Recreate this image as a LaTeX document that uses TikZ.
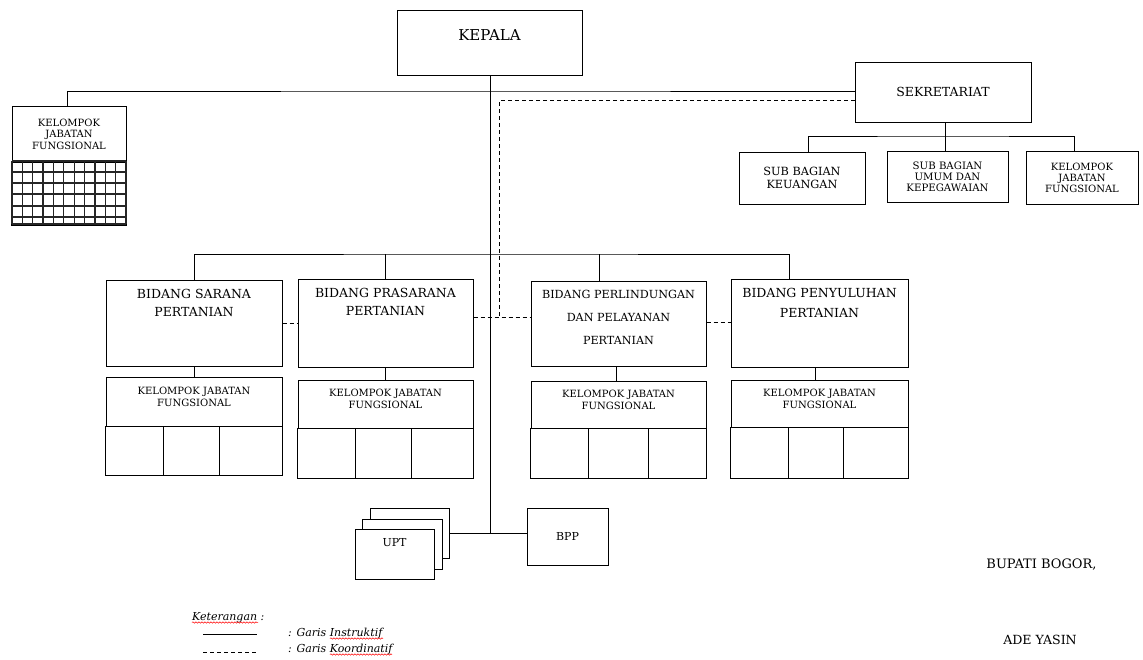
\documentclass[tikz,border=0pt]{standalone}
\usepackage{fontspec}
\setmainfont{DejaVu Serif}
\usetikzlibrary{positioning,decorations.pathmorphing}
\tikzset{
  box/.style={draw, line width=1pt, fill=white, inner sep=0pt, align=center},
  txt/.style={inner sep=0pt, align=center},
  instr/.style={line width=1pt},
  koord/.style={line width=1pt, dash pattern=on 4pt off 3pt},
  cellline/.style={line width=1pt},
  gridline/.style={line width=1.2pt, black!85},
  typo/.style={red, line width=0.5pt, decorate, decoration={snake, amplitude=0.7pt, segment length=3pt}}
}
\def\fs#1#2{\fontsize{#1}{#2}\selectfont}

\begin{document}
\begin{tikzpicture}[x=1pt, y=-1pt]
			\useasboundingbox (0,0) rectangle (1143,659);
			
			%%%%% KEPALA %%%%%
			\node[box, minimum width=185, minimum height=65] (kepala) at (489.5,42.5) {};
			\node[txt, font=\fs{15}{18}] (kepalatxt) at ([yshift=7.5]kepala.center) {KEPALA};
			
			%%%%% SEKRETARIAT %%%%%
			\node[box, minimum width=176, minimum height=60, font=\fs{12.5}{15}] (sek) at (943,92) {SEKRETARIAT};
			\node[box, minimum width=126, minimum height=52, font=\fs{11.3}{12.5}] (keu) at (802,178) {SUB BAGIAN\\KEUANGAN};
			\node[box, minimum width=121, minimum height=51, font=\fs{10.2}{11}] (umum) at (947.5,176.5) {SUB BAGIAN\\UMUM DAN\\KEPEGAWAIAN};
			\node[box, minimum width=112, minimum height=53, font=\fs{10}{11}] (kjfs) at (1082,177.5) {KELOMPOK\\JABATAN\\FUNGSIONAL};
			
			\coordinate (sekbus) at (945,136);
			\draw[instr] (sek.south -| sekbus) -- (sekbus);
			\draw[instr] ([xshift=6]keu.north) |- (sekbus) -| ([xshift=-8]kjfs.north);
			\draw[instr] (sekbus) -- (sekbus |- umum.north);
			
			%%%%% KELOMPOK JABATAN FUNGSIONAL (kiri) %%%%%
			\node[box, minimum width=114, minimum height=55, font=\fs{10}{11.5}] (kjfl) at (69,134) {KELOMPOK\\JABATAN\\FUNGSIONAL};
			\draw[box] (kjfl.south west) rectangle ([yshift=-63]kjfl.south east);
			\foreach \i in {0,...,11}
				\draw[gridline] ({12+\i*10.364},161) -- ({12+\i*10.364},224);
			\foreach \y in {161,172,183,194,206,217,224}
				\draw[gridline] (12,\y) -- (126,\y);
			
			\coordinate (topbus) at (490,91);
			\draw[instr] ([xshift=-2]kjfl.north) |- (topbus) -- (sek.west |- topbus);
			
			\coordinate (koorbus) at (499.5,317);
			\draw[koord] ([yshift=-8]sek.west) -| (koorbus);
			
			%%%%% BIDANG %%%%%
			\node[box, minimum width=176, minimum height=86] (sarana) at (194,323) {};
			\node[txt, font=\fs{12.5}{18}] (saranatxt) at ([yshift=20]sarana.center) {BIDANG SARANA\\PERTANIAN};
			
			\node[box, minimum width=175, minimum height=88] (prasarana) at (385.5,323) {};
			\node[txt, font=\fs{12.5}{18}] (prasaranatxt) at ([yshift=21]prasarana.center) {BIDANG PRASARANA\\PERTANIAN};
			
			\node[box, minimum width=175, minimum height=85] (perlin) at (618.5,323.5) {};
			\node[txt, font=\fs{11.2}{23}] (perlintxt) at ([yshift=6.5]perlin.center) {BIDANG PERLINDUNGAN\\DAN PELAYANAN\\PERTANIAN};
			
			\node[box, minimum width=177, minimum height=88] (penyul) at (819.5,323) {};
			\node[txt, font=\fs{12.5}{20}] (penyultxt) at ([yshift=20]penyul.center) {BIDANG PENYULUHAN\\PERTANIAN};
			
			\coordinate (bidbus) at (490,254);
			\draw[instr] (sarana.north) |- (bidbus) -| ([xshift=-30.5]penyul.north);
			\draw[instr] (prasarana.north) -- (prasarana.north |- bidbus);
			\draw[instr] ([xshift=-19.5]perlin.north) -- ([xshift=-19.5]perlin.north |- bidbus);
			
			\draw[koord] (sarana.east) -- (sarana.east -| prasarana.west);
			\draw[koord] (prasarana.east |- koorbus) -- (perlin.west |- koorbus);
			\draw[koord] ([yshift=1.5]perlin.east) -- ([yshift=1.5]perlin.east -| penyul.west);
			
			%%%%% KELOMPOK JABATAN FUNGSIONAL (bidang) %%%%%
			\node[box, minimum width=176, minimum height=49] (kjfa) at (194,401.5) {};
			\node[txt, font=\fs{10}{12}] (kjfatxt) at ([yshift=5]kjfa.center) {KELOMPOK JABATAN\\FUNGSIONAL};
			\draw[box] (kjfa.south west) rectangle ([yshift=-49]kjfa.south east);
			\draw[cellline] (163,426) -- (163,475);
			\draw[cellline] (219,426) -- (219,475);
			\draw[instr] (sarana.south) -- (kjfa.north);
			
			\node[box, minimum width=175, minimum height=48] (kjfb) at (385.5,404) {};
			\node[txt, font=\fs{10}{12}] (kjfbtxt) at ([yshift=5.5]kjfb.center) {KELOMPOK JABATAN\\FUNGSIONAL};
			\draw[box] (kjfb.south west) rectangle ([yshift=-50]kjfb.south east);
			\draw[cellline] (355,428) -- (355,478);
			\draw[cellline] (411,428) -- (411,478);
			\draw[instr] (prasarana.south) -- (kjfb.north);
			
			\node[box, minimum width=175, minimum height=47] (kjfc) at (618.5,404.5) {};
			\node[txt, font=\fs{10}{12}] (kjfctxt) at ([yshift=5]kjfc.center) {KELOMPOK JABATAN\\FUNGSIONAL};
			\draw[box] (kjfc.south west) rectangle ([yshift=-50]kjfc.south east);
			\draw[cellline] (588,428) -- (588,478);
			\draw[cellline] (648,428) -- (648,478);
			\draw[instr] ([xshift=-2.5]perlin.south) -- ([xshift=-2.5]kjfc.north);
			
			\node[box, minimum width=177, minimum height=47] (kjfd) at (819.5,403.5) {};
			\node[txt, font=\fs{10}{12}] (kjfdtxt) at ([yshift=5]kjfd.center) {KELOMPOK JABATAN\\FUNGSIONAL};
			\draw[box] (kjfd.south west) rectangle ([yshift=-51]kjfd.south east);
			\draw[cellline] (788,427) -- (788,478);
			\draw[cellline] (843,427) -- (843,478);
			\draw[instr] ([xshift=-4.5]penyul.south) -- ([xshift=-4.5]kjfd.north);
			
			%%%%% UPT / BPP %%%%%
			\coordinate (uptbus) at (490,533);
			\draw[instr] (kepala.south -| uptbus) -- (uptbus);
			
			\node[box, minimum width=79, minimum height=50] (uptc) at (409.5,533) {};
			\node[box, minimum width=80, minimum height=50] (uptb) at (402,544) {};
			\node[box, minimum width=79, minimum height=50] (upta) at (394.5,554) {};
			\node[txt, font=\fs{11}{13}] (upttxt) at ([yshift=11]upta.center) {UPT};
			\node[box, minimum width=81, minimum height=57, font=\fs{11}{13}] (bpp) at (567.5,536.5) {BPP};
			\draw[instr] (uptc.east) -- (uptc.east -| bpp.west);
			
			%%%%% KETERANGAN %%%%%
			\node[txt, anchor=base west, font=\itshape\fs{11}{13}] (ket) at (192,620) {Keterangan :};
			\coordinate (legsa) at (203,634);
			\coordinate (legsb) at (257,634);
			\draw[instr] (legsa) -- (legsb);
			\node[txt, anchor=base west, font=\itshape\fs{11}{13}] (legs) at (288,636) {: Garis Instruktif};
			\coordinate (legda) at (203,652);
			\coordinate (legdb) at (257,652);
			\draw[koord] (legda) -- (legdb);
			\node[txt, anchor=base west, font=\itshape\fs{11}{13}] (legd) at (288,652) {: Garis Koordinatif};
			\draw[typo] (192,622.5) -- (258,622.5);
			\draw[typo] (330,638.5) -- (383,638.5);
			\draw[typo] (330,654.5) -- (392,654.5);
			
			%%%%% TANDA TANGAN %%%%%
			\node[txt, font=\fs{13}{15}] (bupati) at (1041.5,565) {BUPATI BOGOR,};
			\node[txt, font=\fs{12.6}{15}] (ade) at (1040,640) {ADE YASIN};
			
		\end{tikzpicture}
\end{document}
